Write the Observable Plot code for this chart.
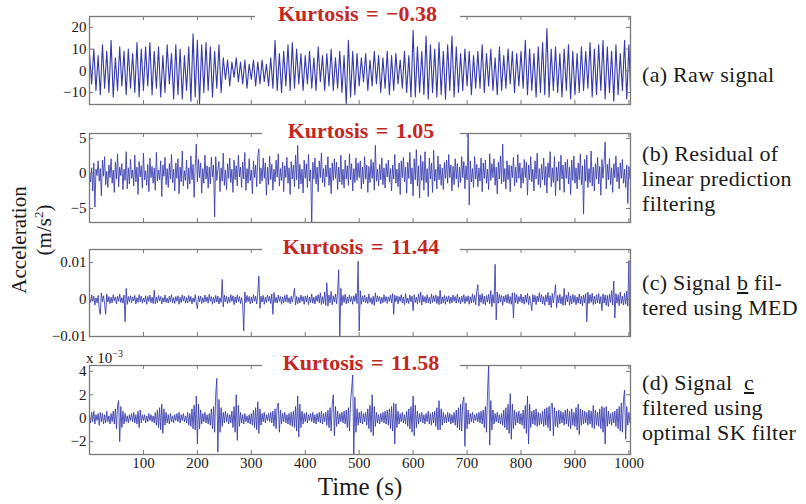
<!DOCTYPE html>
<html><head><meta charset="utf-8">
<script src="https://cdn.jsdelivr.net/npm/d3@7"></script>
<script src="https://cdn.jsdelivr.net/npm/@observablehq/plot@0.6"></script>
<style>
body{margin:0;background:#fff;}
#root{position:relative;width:806px;height:504px;overflow:hidden;font-family:'Liberation Serif','Times New Roman',Times,serif;color:#1a1a1a;}
#root div{font-family:'Liberation Serif','Times New Roman',Times,serif;}
.panel{position:absolute;left:0;}
.title{position:absolute;background:#fff;color:#c4271e;font-weight:bold;font-size:22px;text-align:center;height:24px;line-height:24px;white-space:nowrap;word-spacing:2px;}
.lab{position:absolute;left:642px;font-size:22px;line-height:25px;letter-spacing:0.3px;white-space:nowrap;}
.rot{position:absolute;transform:translate(-50%,-50%) rotate(-90deg);white-space:nowrap;font-size:21px;}
</style></head><body><div id="root"></div>
<script>
// sampling steps of the traces (s)
const rawStep = 4;
const filteredStep = 2;
const xTicks = [100, 200, 300, 400, 500, 600, 700, 800, 900, 1000];

// (a) raw signal, m/s^2 (one value every 4 s)
const rawSignal = [
 8,-6,10,-9,7,-11,12,-8,9,-10,
 14,-12,6,-9,11,-7,9,-11,10,-8,
 8,-10,13,-12,10,-9,11,-7,13,-11,
 9,-8,11,-12,7,-10,12,-6,8,-13,
 12,-11,10,-13,7,-9,11,-14,17,-12,
 14,-15,12,-10,13,-9,11,-12,9,-8,
 12,-10,6,-4,5,-7,4,-3,6,-5,
 4,-6,5,-8,3,-4,5,-7,4,-6,
 5,-5,3,-7,6,-8,14,-9,8,-10,
 9,-7,12,-9,13,-8,10,-6,8,-9,
 7,-6,9,-8,6,-9,11,-5,7,-9,
 8,-7,10,-9,6,-8,9,-10,7,-15,
 14,-12,9,-11,8,-7,6,-5,8,-9,
 5,-7,9,-6,7,-10,6,-8,9,-11,
 7,-9,8,-6,5,-8,9,-10,7,-12,
 18.7,-12,11,-10,9,-11,16,-13,12,-10,
 10,-12,13,-11,9,-13,12,-9,16,-12,
 11,-10,8,-9,10,-7,9,-11,7,-8,
 9,-8,12,-10,8,-7,10,-9,6,-11,
 11,-9,7,-8,10,-6,9,-10,8,-7,
 9,-8,14,-11,10,-9,8,-12,11,-10,
 13,-11,19.5,-12,10,-9,11,-10,8,-12,
 10,-9,12,-13,9,-11,8,-10,11,-9,
 9,-8,13,-12,10,-11,12,-9,14,-13,
 11,-10,9,-14,12,-11,8,-9,14,-13,
 12,-15
];

// (b) residual of linear prediction filtering, m/s^2 (one value every 2 s)
const residualSignal = [
 0.4,-1.2,0.8,-2.5,1.5,-4.8,0.6,-0.3,1.8,-1.1,
 0.7,-3.2,1.9,-0.4,2.4,-1.6,0.3,-2.0,1.2,-0.6,
 2.1,-1.4,0.5,-2.7,1.6,-0.8,2.8,-1.9,0.9,-0.3,
 1.4,-2.3,0.6,-1.0,3.1,-2.2,0.8,-1.5,2.0,-0.7,
 0.5,-1.8,2.6,-1.2,0.9,-3.0,1.7,-0.5,1.1,-2.1,
 2.9,-0.9,0.4,-1.7,1.3,-2.6,2.2,-0.6,1.0,-1.4,
 0.8,-2.4,3.0,-1.1,0.5,-0.9,1.8,-3.3,1.2,-0.4,
 2.3,-1.6,0.7,-2.0,1.4,-0.8,2.7,-1.3,0.6,-2.5,
 1.5,-0.7,2.1,-2.9,0.9,-1.2,3.2,-1.8,0.4,-1.0,
 1.9,-2.2,0.8,-1.5,2.5,-0.9,1.3,-3.4,1.0,4.2,
 -1.2,2.0,-0.6,1.5,-2.8,0.7,-1.4,2.6,-0.8,1.1,
 -2.1,0.9,-1.5,2.3,-0.5,1.2,-6.2,2.4,-1.0,0.6,
 1.7,-2.6,0.8,-1.1,2.9,-1.7,0.5,-2.3,1.4,-0.7,
 2.2,-1.3,0.6,-2.7,1.9,-0.9,1.1,-1.8,2.6,-0.5,
 0.9,-2.0,1.6,-0.8,3.0,-2.4,0.7,-1.4,2.1,-1.0,
 0.5,-2.9,1.8,-0.6,1.2,-1.9,2.4,3.5,-1.5,0.8,
 -1.1,2.2,-0.7,1.5,-3.1,0.9,-1.6,2.5,-0.9,1.3,
 -2.4,0.6,-1.2,1.9,-0.5,2.8,-1.8,0.7,-1.0,1.6,
 -2.6,1.1,-0.6,2.3,-1.4,0.8,-3.0,1.7,-0.8,1.2,
 -1.9,2.6,-0.9,4.0,-2.2,1.3,-1.5,0.6,-2.8,1.9,
 -0.7,1.4,-2.0,2.7,-1.1,0.5,-7.2,1.6,-0.8,2.2,
 -1.5,0.9,-2.6,1.8,-0.6,2.9,-1.3,0.7,-1.9,1.2,
 -0.5,2.4,-1.7,0.8,-2.9,1.5,-1.0,2.1,-0.7,1.6,
 -2.3,0.9,-1.2,2.6,-1.6,0.6,-2.1,1.9,-0.8,1.1,
 -1.7,2.8,-0.9,1.4,-2.5,0.7,-1.3,2.2,-1.0,1.5,
 -0.6,1.8,-2.2,0.9,-1.5,2.4,-0.8,1.2,-2.7,1.0,
 -1.3,2.0,-0.7,1.6,-2.4,4.0,-1.1,0.6,-1.8,1.3,
 -0.9,2.2,-1.6,0.8,-2.1,1.4,-0.5,1.9,-1.2,0.7,
 -2.5,1.2,-0.8,2.7,-1.4,0.6,-1.9,1.5,-3.0,1.8,
 -0.6,2.3,-1.2,0.9,-2.8,1.6,-0.7,3.0,-1.5,0.8,
 -3.2,2.1,-0.9,3.4,-1.8,1.1,-3.5,2.6,-1.0,1.7,
 -2.4,3.1,-1.3,0.7,-3.3,2.2,-0.8,1.5,-2.7,3.3,
 -1.1,0.6,-2.2,2.5,-0.9,1.3,-1.7,0.8,-2.3,1.6,
 -0.7,1.9,-1.4,2.7,-0.6,1.2,-2.5,1.0,-1.6,2.1,
 -0.8,1.4,-2.0,0.9,-1.3,2.4,-0.6,1.7,-2.2,1.1,
 -0.9,5.7,-4.5,1.8,-1.2,0.7,-2.0,2.4,-0.8,1.3,
 -1.9,0.8,-1.1,2.2,-2.6,1.5,-0.7,1.9,-1.4,0.6,
 -2.3,2.8,-1.0,1.4,-0.6,2.1,-1.7,0.9,-2.9,1.6,
 -0.8,2.5,-1.5,4.2,-1.2,0.7,-2.2,1.8,-0.9,1.2,
 -2.6,1.1,-0.6,2.3,-1.8,0.9,-1.3,2.7,-0.7,1.5,
 -2.1,0.8,-1.4,2.0,-0.6,1.6,-3.1,1.2,-0.9,2.4,
 -1.2,0.6,-2.5,1.8,-0.8,2.9,-1.6,0.7,-2.0,1.3,
 -0.9,2.2,-1.7,1.0,-2.8,1.5,-0.6,3.1,-1.9,0.8,
 -1.3,2.4,-3.2,0.9,-1.1,1.7,-2.4,2.6,-0.8,1.2,
 -2.7,1.6,-0.7,2.0,-1.5,0.9,-3.0,1.9,-1.0,2.5,
 -1.4,0.8,-2.2,1.5,-0.9,2.8,-1.6,1.1,-5.8,2.0,
 -1.1,2.6,-2.0,0.7,-1.3,3.2,-1.8,0.9,-2.5,1.4,
 -0.8,2.3,-1.5,1.0,-3.1,2.0,-0.7,1.6,4.5,-2.2,
 1.3,-0.9,2.1,-1.6,0.8,-2.7,1.4,-0.6,2.5,-1.2,
 0.9,-2.2,1.5,-0.7,2.0,-1.4,0.6,-2.0,1.2,-4.3,
 1.0,-0.8
];

// (c) signal b filtered using MED, in 10^-3 m/s^2 (one value every 2 s)
const medSignal = [
 0.3,-0.8,1.2,-0.5,0.9,-1.5,0.4,-0.9,1.1,-2.5,
 -4.0,1.8,-0.6,1.0,-1.3,-4.0,1.5,-0.7,0.8,-1.1,
 0.6,-0.9,1.3,-0.4,0.7,-1.2,0.9,-0.5,1.4,-0.8,
 0.5,-1.0,1.2,-6.0,3.0,-1.3,0.8,-0.6,1.0,-0.9,
 0.7,-0.4,1.1,-1.2,0.5,-0.8,1.3,-0.6,0.9,-1.0,
 0.4,-0.7,1.0,-1.3,0.8,-0.5,1.2,-0.9,0.6,-1.1,
 2.5,-1.2,0.7,-0.9,1.1,-0.4,0.8,-1.2,0.5,-0.7,
 1.2,-0.8,0.4,-1.0,0.9,-0.6,1.3,-0.9,0.5,-1.1,
 0.8,-0.5,1.0,-1.3,0.6,-0.8,1.2,-0.4,0.9,-1.0,
 0.5,-0.9,1.1,-0.6,0.8,-1.2,0.4,-0.7,1.3,-0.9,
 -2.5,1.0,-0.6,0.9,-1.1,0.5,-0.8,1.2,-0.6,0.7,
 -1.0,1.4,-0.5,0.8,-1.3,0.6,-0.9,1.1,-0.7,0.9,
 -1.2,0.5,-0.8,5.4,-2.0,1.2,-0.7,0.9,-1.1,0.6,
 -0.8,1.3,-0.5,1.0,-1.4,0.7,-0.9,1.2,-0.6,0.8,
 -1.1,0.5,-1.5,-8.5,2.0,-0.9,1.1,-0.6,0.8,-1.2,
 0.6,-0.9,1.3,-0.5,0.9,-1.2,1.6,6.3,-2.4,0.9,
 -0.7,1.1,-1.3,0.6,-0.8,1.2,-0.5,0.9,-1.1,1.5,
 -4.0,1.9,-0.8,0.6,-1.0,1.2,-0.5,0.8,-1.3,0.7,
 -0.9,1.1,-0.6,1.3,-0.8,0.5,-1.2,0.9,-0.7,1.0,
 3.0,-1.5,0.8,-1.1,0.6,-0.9,1.2,-0.5,0.8,-1.3,
 0.9,-0.6,1.1,-1.4,0.7,-0.8,1.5,-1.0,0.6,-1.2,
 1.0,-0.5,1.3,-0.9,1.8,-1.4,0.8,-1.1,2.0,-1.6,
 4.5,-1.8,1.2,-0.9,2.2,-1.4,1.0,-0.7,1.5,-1.2,
 2.0,8.0,-10.5,3.0,-1.6,1.1,-0.8,1.4,-1.2,0.7,
 -0.9,1.2,-0.6,0.8,-1.3,1.0,-0.5,1.6,-1.1,10.3,
 -8.5,2.4,-1.3,1.0,-0.7,1.2,-0.9,0.6,-1.1,1.5,
 -0.8,0.5,-1.3,0.9,-1.6,1.8,-0.7,1.0,-0.5,0.8,
 -1.2,0.6,-0.9,1.3,-0.6,0.8,-1.1,0.7,-0.5,1.2,
 -0.9,1.6,-4.0,1.2,-0.6,1.0,-1.2,0.8,-0.5,1.3,
 -1.0,0.7,-1.4,1.6,-0.9,0.4,-1.1,1.2,-0.6,0.9,
 -3.0,1.3,-0.8,0.6,-1.2,1.5,-0.8,2.0,-1.5,1.1,
 -0.7,0.8,-1.0,1.3,-0.9,0.6,-1.2,1.5,-0.8,1.0,
 -0.6,1.2,-1.1,0.9,-1.4,2.5,-1.2,0.7,-0.9,1.1,
 -1.3,0.8,-0.6,1.0,-1.1,0.7,-0.9,1.2,-0.5,0.8,
 -1.0,1.4,-0.8,0.6,-1.2,0.9,-0.7,1.3,-1.1,0.8,
 -0.6,1.0,-1.3,0.7,-0.9,1.5,-0.8,1.1,-1.4,2.2,
 4.0,-1.8,1.3,-0.8,1.6,-1.2,0.9,-1.5,1.1,-0.7,
 1.4,-1.2,2.4,-2.0,1.3,-1.0,9.5,-5.5,2.0,-1.0,
 1.4,-0.7,1.1,-1.6,0.9,-0.6,1.2,-0.9,1.5,-1.1,
 0.8,-1.3,1.8,-5.0,1.8,-0.9,1.3,-1.2,0.8,-0.6,
 1.5,-1.0,0.7,-1.3,1.2,-0.8,1.6,-1.4,0.9,-1.1,
 -3.0,1.3,-0.7,1.1,-1.4,0.9,-0.6,1.8,-0.7,1.3,
 -1.2,0.8,-1.6,1.2,-0.6,1.9,-1.5,1.0,-2.2,1.6,
 -0.9,1.4,4.0,-2.2,1.1,-0.9,1.4,-1.2,0.8,-1.6,
 3.0,-1.5,1.2,-0.6,1.9,-1.5,1.0,-1.2,1.4,-0.8,
 1.1,-1.4,0.7,-1.0,1.5,-1.2,0.9,-1.7,1.2,-0.9,
 1.6,-6.0,2.0,-1.1,1.3,-0.8,1.7,-1.4,0.9,-1.2,
 1.3,-0.9,1.6,-1.2,0.8,-3.0,1.5,-1.0,1.2,-1.6,
 1.1,-1.9,1.4,-0.8,2.4,-1.5,5.0,-5.0,1.6,-1.0,
 1.3,-1.7,2.0,-1.1,0.9,-1.5,1.7,-1.3,2.2,-1.8,
 10.5,-10.0
];

// (d) signal c filtered using optimal SK filter, in 10^-3 m/s^2 (one value every 2 s)
const skSignal = [
 0.2,-0.4,0.5,-0.3,0.6,-0.5,0.3,-0.2,0.4,-0.6,
 0.5,-0.3,0.4,-0.5,0.3,-0.4,0.6,-0.3,0.2,-0.5,
 0.4,-0.3,0.6,-0.5,0.8,-0.9,1.1,1.5,-2.0,1.0,
 -0.8,0.6,-0.5,0.4,-0.3,0.2,-0.4,0.3,-0.2,0.4,
 -0.3,0.5,-0.4,0.3,-0.5,0.6,-0.8,0.7,-0.4,0.3,
 -0.2,0.3,-0.4,0.2,-0.3,0.4,-0.2,0.3,-0.3,0.2,
 -0.4,0.5,-0.6,0.7,-0.8,0.9,-1.0,1.2,-1.3,0.8,
 -0.6,0.5,-0.4,0.3,-0.5,0.4,-0.3,0.2,-0.4,0.3,
 -0.2,0.4,-0.3,0.5,-0.4,0.3,-0.2,0.4,-0.3,0.2,
 -0.4,0.5,-0.6,0.4,-0.7,0.8,-0.9,1.1,-1.0,1.9,
 -2.2,1.2,-0.9,0.7,-0.5,0.4,-0.3,0.5,-0.4,0.3,
 -0.5,0.4,-0.6,0.8,-0.9,1.0,-1.2,2.0,3.4,-2.9,
 1.6,-1.2,0.9,-0.7,0.5,-0.4,0.6,-0.3,0.4,-0.5,
 0.3,-0.4,0.6,-0.8,1.0,-1.2,2.0,-1.9,1.1,-0.7,
 0.5,-0.4,0.3,-0.5,0.4,-0.3,0.2,-0.4,0.3,-0.5,
 0.4,-0.6,0.7,-0.8,0.9,-1.0,1.4,-1.3,0.8,-0.6,
 0.4,-0.3,0.5,-0.4,0.3,-0.2,0.4,-0.3,0.5,-0.4,
 0.6,-0.7,0.8,-0.9,1.0,1.3,-1.2,0.7,-0.5,0.4,
 -0.3,0.5,-0.4,0.3,-0.5,0.4,-0.6,0.5,-0.7,0.6,
 -0.8,1.0,-1.1,1.9,-1.6,1.2,-0.8,0.6,-0.5,0.4,
 -0.3,0.5,-0.4,0.3,-0.2,0.4,-0.3,0.5,-0.4,0.3,
 -0.5,0.4,-0.3,0.5,-0.4,0.6,-0.5,0.4,-0.3,0.5,
 -0.6,0.7,-0.8,0.9,-1.1,1.2,2.0,-1.5,1.0,-0.7,
 0.6,-0.5,0.4,-0.3,0.5,-0.4,0.6,-0.5,0.7,-0.8,
 0.9,-1.1,1.4,2.5,3.7,-3.2,1.8,-1.2,0.8,-0.6,
 0.5,-0.4,0.6,-0.5,0.4,-0.3,0.5,-0.6,0.8,-0.9,
 1.1,-1.2,2.0,-1.5,1.0,-0.7,0.5,-0.4,0.3,-0.5,
 0.4,-0.3,0.5,-0.4,0.6,-0.5,0.7,-0.6,0.8,-0.9,
 1.0,-1.1,1.3,-2.2,1.2,-0.8,0.6,-0.5,0.4,-0.3,
 0.5,-0.4,0.3,-0.5,0.6,-0.7,0.8,-0.9,1.0,-1.2,
 1.9,-1.5,1.1,-0.8,0.6,-0.5,0.4,-0.3,0.5,-0.4,
 0.3,-0.5,0.4,-0.3,0.6,-0.5,0.4,-0.6,0.5,-0.4,
 0.6,-0.7,0.9,-1.0,1.5,-1.0,0.8,-0.6,0.5,-0.4,
 0.3,-0.4,0.5,-0.3,0.4,-0.5,0.3,-0.4,0.5,-0.6,
 0.7,-0.8,0.9,-1.0,1.2,-1.1,1.4,1.8,-2.4,1.3,
 -0.9,0.7,-0.5,0.4,-0.3,0.5,-0.4,0.3,-0.2,0.4,
 -0.3,0.5,-0.4,0.6,-0.5,0.7,-0.8,1.0,-1.2,2.3,
 4.5,-2.3,1.5,-1.0,0.7,-0.5,0.4,-0.3,0.5,-0.4,
 0.3,-0.5,0.4,-0.6,0.7,-0.8,0.9,-1.0,1.2,-1.3,
 2.1,-1.8,1.2,-0.9,0.7,-0.6,0.5,-0.4,0.6,-0.5,
 0.4,-0.6,0.7,-0.9,1.1,-1.3,1.9,-2.2,1.2,-0.8,
 0.6,-0.5,0.7,-0.6,0.8,-0.7,0.5,-0.6,0.4,-0.5,
 0.6,-0.7,0.8,-0.6,0.9,-0.8,1.0,-1.1,1.2,1.3,
 -1.5,0.9,-0.7,0.6,-0.8,0.7,-0.5,0.6,-0.4,0.5,
 -0.6,0.7,-0.5,0.8,-0.7,0.6,-0.9,0.8,-0.6,0.5,
 -0.7,0.9,-1.0,1.2,-1.4,0.8,-0.6,0.7,-0.5,0.6,
 -0.4,0.5,-0.6,0.7,-0.5,0.6,-0.8,1.1,-0.9,0.7,
 -0.6,0.5,-0.7,0.8,-0.9,1.0,-1.2,0.9,-2.2,1.0,
 -0.7,0.6,-0.5,0.4,-0.6,0.5,-0.4,0.6,-0.7,0.8,
 -0.9,1.0,-1.1,1.3,-1.2,1.6,2.4,-1.8,1.0,-0.6,
 0.5,-0.4
];

const kurtosisLabels = ["Kurtosis = \u22120.38", "Kurtosis = 1.05", "Kurtosis = 11.44", "Kurtosis = 11.58"];
const panelLabels = [
  "(a) Raw signal",
  "(b) Residual of<br>linear prediction<br>filtering",
  "(c) Signal <u>b</u> fil-<br>tered using MED",
  "(d) Signal&nbsp; <u>c</u><br>filtered using<br>optimal SK filter"
];
const yTicksA = [-10, 0, 10, 20];
const yTicksB = [-5, 0, 5];
const yTicksC = [-10, 0, 10];   // in 10^-3 units, shown as -0.01, 0, 0.01
const yTicksD = [-2, 0, 2, 4];

const root = document.getElementById("root");
const W = 806, mL = 89, mR = 176;
const xDomain = [0, 1003];
const minus = v => (v < 0 ? "\u2212" : "") + Math.abs(v);
const serif = "'Liberation Serif', 'Times New Roman', Times, serif";

function panel(values, step, sw, yDomain, yTicks, yFmt, frameTop, frameBottom, showX) {
  const mt = 10, mb = showX ? 30 : 12;
  const H = frameBottom - frameTop;
  const fw = W - mL - mR;
  const data = values.map((v, i) => ({t: i * step, v}));
  const edge = "#7a7a7a";
  const chart = Plot.plot({
    width: W, height: H + mt + mb,
    marginLeft: mL, marginRight: mR, marginTop: mt, marginBottom: mb,
    style: {fontFamily: serif, fontSize: "15px", background: "transparent", color: "#1a1a1a"},
    x: {domain: xDomain, axis: showX ? undefined : null},
    y: {domain: yDomain},
    marks: [
      Plot.lineY(data, {x: "t", y: "v", stroke: "#3539ad", strokeWidth: sw, clip: true}),
      Plot.frame({stroke: edge, strokeWidth: 1.3}),
      Plot.tickY(yTicks, {y: d => d, insetRight: fw - 4, stroke: edge}),
      Plot.tickY(yTicks, {y: d => d, insetLeft: fw - 4, stroke: edge}),
      Plot.tickX(xTicks, {x: d => d, insetBottom: H - 4, stroke: edge}),
      Plot.tickX(xTicks, {x: d => d, insetTop: H - 4, stroke: edge}),
      Plot.axisY(yTicks, {tickSize: 0, tickPadding: 3, tickFormat: yFmt, label: null, fontSize: 15, fontFamily: serif}),
      showX ? Plot.axisX(xTicks, {tickSize: 0, tickPadding: 3, tickFormat: d => String(d), label: null, fontSize: 15, fontFamily: serif}) : null
    ]
  });
  chart.classList.add("panel");
  chart.style.top = (frameTop - mt) + "px";
  root.appendChild(chart);
}

panel(rawSignal, rawStep, 1.1, [-15.5, 25], yTicksA, minus, 16, 104, false);
panel(residualSignal, filteredStep, 0.85, [-7, 5.7], yTicksB, minus, 133, 222, false);
panel(medSignal, filteredStep, 0.85, [-10, 13.5], yTicksC, d => d === 0 ? "0" : minus(d / 1000), 249, 336, false);
panel(skSignal, filteredStep, 0.85, [-3.1, 4.5], yTicksD, minus, 365, 454, true);

// titles over the top frame line
const titlePos = [[255, 205, 16], [262, 198, 133], [262, 198, 249], [262, 198, 365]];
kurtosisLabels.forEach((txt, i) => {
  const [l, w, ft] = titlePos[i];
  const d = document.createElement("div");
  d.className = "title";
  d.style.left = l + "px"; d.style.width = w + "px";
  d.style.top = (ft - 2 - 12) + "px";
  d.textContent = txt;
  root.appendChild(d);
});

// panel descriptions
const labTops = [62, 141, 270, 370];
panelLabels.forEach((html, i) => {
  const d = document.createElement("div");
  d.className = "lab";
  d.style.top = labTops[i] + "px";
  d.innerHTML = html;
  root.appendChild(d);
});

// exponent label
const ex = document.createElement("div");
ex.style.cssText = "position:absolute;left:86px;top:346px;font-size:15px;line-height:16px;white-space:nowrap;";
ex.innerHTML = "x 10<sup style='font-size:10px'>\u22123</sup>";
root.appendChild(ex);

// axis titles
const yl1 = document.createElement("div");
yl1.className = "rot"; yl1.style.left = "19px"; yl1.style.top = "240px";
yl1.textContent = "Acceleration";
root.appendChild(yl1);
const yl2 = document.createElement("div");
yl2.className = "rot"; yl2.style.left = "44px"; yl2.style.top = "230px";
yl2.innerHTML = "(m/s<sup style='font-size:13px'>2</sup>)";
root.appendChild(yl2);
const xl = document.createElement("div");
xl.style.cssText = "position:absolute;left:260px;width:200px;text-align:center;top:473px;font-size:25px;line-height:28px;white-space:nowrap;";
xl.textContent = "Time (s)";
root.appendChild(xl);
</script></body></html>
